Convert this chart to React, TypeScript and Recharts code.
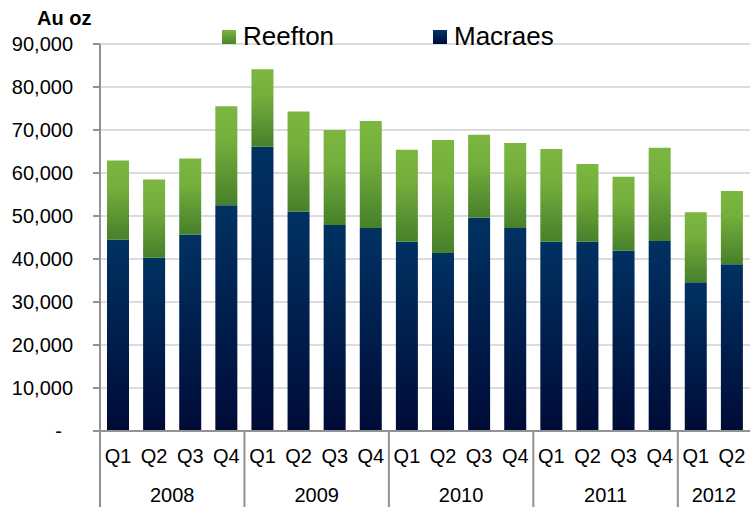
import { BarChart, Bar, XAxis, YAxis, CartesianGrid } from 'recharts';

const quarters = ['Q1', 'Q2', 'Q3', 'Q4', 'Q1', 'Q2', 'Q3', 'Q4', 'Q1', 'Q2', 'Q3', 'Q4', 'Q1', 'Q2', 'Q3', 'Q4', 'Q1', 'Q2'];
const years = ['2008', '2008', '2008', '2008', '2009', '2009', '2009', '2009', '2010', '2010', '2010', '2010', '2011', '2011', '2011', '2011', '2012', '2012'];
const macraes = [44500, 40300, 45700, 52500, 66100, 51000, 47900, 47200, 44000, 41400, 49600, 47200, 44000, 44000, 41900, 44200, 34600, 38800];
const reefton = [18400, 18200, 17700, 23000, 18000, 23300, 22100, 24900, 21400, 26300, 19300, 19800, 21600, 18100, 17200, 21700, 16300, 17000];
const yTicks = [0, 10000, 20000, 30000, 40000, 50000, 60000, 70000, 80000, 90000];

const data = quarters.map((q, i) => ({
  id: `${years[i]} ${q}`,
  macraes: macraes[i],
  reefton: reefton[i],
}));

const W = 750;
const H = 507;
const LEFT = 100;
const TOP = 44;
const AXIS_H = 76;
const PLOT_BOTTOM = H - AXIS_H;
const STEP = (W - LEFT) / quarters.length;
const FONT = '"Liberation Sans", Arial, sans-serif';
const AXIS_GREY = '#929292';

const YTick = (props: any) => {
  const { x, y, payload } = props;
  const v = payload.value as number;
  return (
    <text
      x={v === 0 ? x - 11 : x}
      y={y + 7}
      textAnchor="end"
      fontSize={20}
      fontFamily={FONT}
      fill="#000"
    >
      {v === 0 ? '-' : v.toLocaleString('en-US')}
    </text>
  );
};

const XTick = (props: any) => {
  const { x } = props;
  const i: number = props.index ?? props.payload?.index ?? 0;
  const yr = years[i];
  const first = i === 0 || years[i - 1] !== yr;
  const n = years.filter((v) => v === yr).length;
  return (
    <g>
      <text x={x} y={PLOT_BOTTOM + 32} textAnchor="middle" fontSize={20} fontFamily={FONT} fill="#000">
        {quarters[i]}
      </text>
      {first && (
        <line x1={x - STEP / 2} x2={x - STEP / 2} y1={PLOT_BOTTOM} y2={H} stroke={AXIS_GREY} strokeWidth={2} />
      )}
      {first && (
        <text
          x={x + ((n - 1) * STEP) / 2}
          y={PLOT_BOTTOM + 71}
          textAnchor="middle"
          fontSize={20}
          fontFamily={FONT}
          fill="#000"
        >
          {yr}
        </text>
      )}
    </g>
  );
};

const legendItems = [
  { name: 'Reefton', swatch: 'linear-gradient(#7ab63f, #4a842c)' },
  { name: 'Macraes', swatch: 'linear-gradient(#003466, #000b38)' },
];

const ChartLegend = () => (
  <div
    style={{
      position: 'absolute',
      left: 222,
      top: 21,
      display: 'flex',
      fontFamily: FONT,
      fontSize: 26,
      lineHeight: '30px',
      zIndex: 2,
    }}
  >
    {legendItems.map((item) => (
      <div key={item.name} style={{ display: 'flex', alignItems: 'flex-start', width: 211 }}>
        <div style={{ width: 14, height: 14, marginTop: 9, marginRight: 7, background: item.swatch }} />
        <span style={{ color: '#000' }}>{item.name}</span>
      </div>
    ))}
  </div>
);

const App = () => {
  return (
    <div style={{ position: 'absolute', left: 0, top: 0, width: W, height: H, background: '#fff' }}>
      <div
        style={{
          position: 'absolute',
          left: 37,
          top: 6,
          fontFamily: FONT,
          fontWeight: 'bold',
          fontSize: 20,
          lineHeight: '24px',
          color: '#000',
          zIndex: 2,
        }}
      >
        Au oz
      </div>
      <ChartLegend />
      <BarChart width={W} height={H} data={data} margin={{ top: TOP, right: 0, left: 0, bottom: 0 }} barSize={22}>
        <defs>
          <linearGradient id="gradReefton" x1="0" y1="0" x2="0" y2="1">
            <stop offset="0%" stopColor="#7bb740" />
            <stop offset="35%" stopColor="#74ae3c" />
            <stop offset="100%" stopColor="#47802a" />
          </linearGradient>
          <linearGradient id="gradMacraes" x1="0" y1="0" x2="0" y2="1">
            <stop offset="0%" stopColor="#003262" />
            <stop offset="100%" stopColor="#000b37" />
          </linearGradient>
        </defs>
        <CartesianGrid vertical={false} stroke="#dcdcdc" strokeWidth={2} />
        <XAxis
          dataKey="id"
          height={AXIS_H}
          interval={0}
          tickLine={false}
          axisLine={{ stroke: AXIS_GREY, strokeWidth: 2 }}
          tick={<XTick />}
        />
        <YAxis
          width={LEFT}
          domain={[0, 90000]}
          ticks={yTicks}
          interval={0}
          tickSize={7}
          tickMargin={20}
          axisLine={{ stroke: AXIS_GREY, strokeWidth: 2 }}
          tickLine={{ stroke: AXIS_GREY, strokeWidth: 2 }}
          tick={<YTick />}
        />
        <Bar dataKey="macraes" stackId="a" fill="url(#gradMacraes)" isAnimationActive={false} />
        <Bar dataKey="reefton" stackId="a" fill="url(#gradReefton)" isAnimationActive={false} />
      </BarChart>
    </div>
  );
};

export default App;
